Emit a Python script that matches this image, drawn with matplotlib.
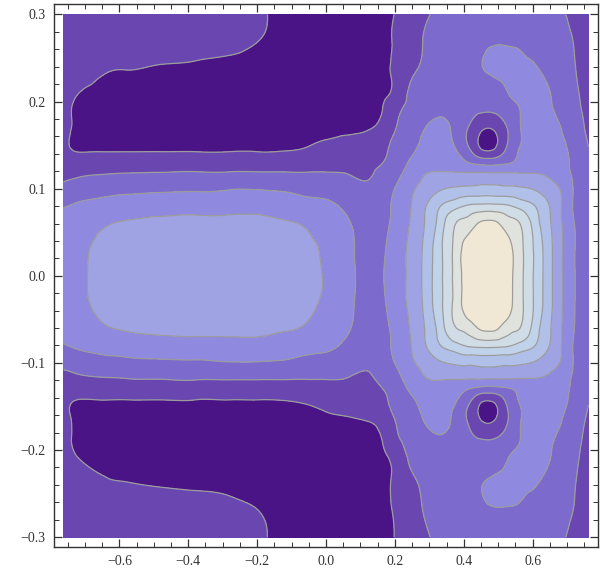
import numpy as np
import matplotlib
matplotlib.use("Agg")
import matplotlib.pyplot as plt
import matplotlib.tri as mtri
from matplotlib.ticker import MultipleLocator, FuncFormatter

x_nodes = [-0.762, -0.72, -0.66, -0.58, -0.48, -0.38, -0.28, -0.20, -0.12, -0.06,
           0.00, 0.06, 0.12, 0.17, 0.21, 0.25, 0.29, 0.33, 0.37, 0.41,
           0.44, 0.47, 0.50, 0.53, 0.57, 0.61, 0.65, 0.69, 0.73, 0.762]
y_nodes = [0.30, 0.27, 0.24, 0.21, 0.19, 0.17, 0.155, 0.14, 0.13, 0.115,
           0.10, 0.08, 0.06, 0.03, 0.0, -0.03, -0.06, -0.08, -0.10, -0.115,
           -0.13, -0.14, -0.155, -0.17, -0.19, -0.21, -0.24, -0.27, -0.30]

# level (band number 1 = darkest .. 10 = cream) at each node, one row per y
r00 = [2.0, 2.0, 2.0, 2.0, 2.0, 2.0, 1.85, 1.6, 1.3, 1.1, 1.05, 1.05, 1.15, 1.35, 1.59, 2.01, 2.39, 2.7, 2.9, 3.0, 3.1, 3.15, 3.2, 3.2, 3.15, 3.0, 2.85, 2.55, 2.25, 2.0]
r01 = [2.0, 2.0, 2.0, 2.0, 2.0, 2.0, 1.8, 1.52, 1.2, 1.0, 1.0, 1.0, 1.1, 1.35, 1.65, 2.1, 2.6, 2.9, 3.1, 3.2, 3.3, 3.4, 3.45, 3.45, 3.4, 3.2, 3.0, 2.7, 2.4, 2.1]
r02 = [2.0, 2.0, 1.7, 1.55, 1.45, 1.35, 1.25, 1.15, 1.0, 0.95, 0.95, 0.95, 1.05, 1.35, 1.75, 2.25, 2.75, 3.0, 3.15, 3.3, 3.4, 3.6, 3.7, 3.7, 3.65, 3.52, 3.2, 2.85, 2.45, 2.15]
r03 = [1.9, 1.52, 1.3, 1.2, 1.1, 1.0, 0.95, 0.95, 0.9, 0.9, 0.9, 0.95, 1.05, 1.4, 1.85, 2.8, 3.1, 3.25, 3.2, 3.05, 2.95, 2.9, 3.05, 3.52, 3.8, 3.75, 3.52, 3.0, 2.55, 2.2]
r04 = [1.85, 1.3, 1.15, 1.0, 1.0, 0.95, 0.95, 0.95, 0.95, 0.95, 0.95, 1.0, 1.15, 1.6, 2.35, 2.85, 3.15, 3.35, 3.15, 2.75, 2.6, 2.55, 2.65, 3.0, 3.6, 3.85, 3.6, 3.2, 2.65, 2.3]
r05 = [1.85, 1.25, 0.95, 0.95, 0.95, 0.95, 0.95, 0.95, 0.95, 0.95, 1.0, 1.1, 1.35, 1.95, 2.6, 3.1, 3.52, 3.75, 3.35, 2.55, 1.94, 1.54, 1.94, 2.6, 3.6, 3.95, 3.8, 3.4, 2.8, 2.35]
r06 = [1.85, 1.15, 1.0, 1.0, 1.0, 1.0, 1.0, 1.0, 1.05, 1.2, 1.55, 1.8, 2.0, 2.3, 2.75, 3.2, 3.7, 3.8, 3.45, 2.45, 1.55, 0.8, 1.55, 2.55, 3.55, 4.0, 3.9, 3.55, 2.95, 2.45]
r07 = [1.8, 1.6, 1.62, 1.62, 1.62, 1.62, 1.62, 1.62, 1.65, 1.75, 1.9, 2.0, 2.1, 2.4, 2.95, 3.45, 3.85, 3.95, 3.7, 3.0, 2.2, 1.88, 2.2, 2.9, 3.75, 4.1, 4.05, 3.7, 3.05, 2.55]
r08 = [2.1, 2.04, 2.04, 2.04, 2.04, 2.04, 2.04, 2.04, 2.04, 2.05, 2.1, 2.2, 2.3, 2.55, 3.15, 3.65, 4.05, 4.15, 3.95, 3.55, 3.25, 3.1, 3.2, 3.4, 3.85, 4.2, 4.1, 3.75, 3.1, 2.6]
r09 = [2.32, 2.44, 2.54, 2.62, 2.67, 2.72, 2.72, 2.72, 2.7, 2.68, 2.66, 2.55, 2.45, 2.85, 3.4, 3.95, 4.55, 4.7, 4.75, 4.78, 4.8, 4.8, 4.8, 4.78, 4.7, 4.6, 4.4, 3.9, 3.2, 2.7]
r10 = [2.79, 2.98, 3.14, 3.25, 3.33, 3.37, 3.45, 3.45, 3.37, 3.24, 3.12, 2.88, 2.65, 3.1, 3.67, 4.36, 4.88, 5.36, 5.6, 5.7, 5.75, 5.8, 5.75, 5.7, 5.6, 5.36, 4.88, 4.26, 3.17, 2.7]
r11 = [3.45, 3.6, 3.78, 3.97, 4.07, 4.13, 4.16, 4.16, 4.03, 3.85, 3.7, 3.3, 2.9, 3.2, 3.88, 4.55, 5.48, 6.45, 7.1, 7.6, 7.75, 7.8, 7.75, 7.6, 7.1, 6.45, 5.47, 4.32, 3.16, 2.7]
r12 = [3.75, 3.85, 4.3, 4.6, 4.75, 4.8, 4.8, 4.8, 4.6, 4.4, 4.0, 3.65, 3.0, 3.3, 3.9, 4.65, 5.6, 6.9, 8.35, 8.9, 9.5, 9.75, 9.55, 8.95, 8.35, 6.9, 5.6, 4.35, 3.3, 2.7]
r13 = [3.85, 4.2, 4.7, 4.95, 5.05, 5.1, 5.1, 5.05, 4.95, 4.75, 4.35, 3.8, 3.15, 3.45, 4.1, 4.81, 5.82, 7.22, 8.6, 9.98, 10.3, 10.4, 10.3, 9.82, 8.6, 7.22, 5.77, 4.4, 3.35, 2.72]
r14 = [3.9, 4.25, 4.75, 5.0, 5.1, 5.15, 5.15, 5.1, 5.0, 4.8, 4.43, 3.85, 3.2, 3.53, 4.13, 4.83, 5.86, 7.22, 8.6, 9.98, 10.3, 10.4, 10.3, 9.82, 8.6, 7.22, 5.77, 4.4, 3.35, 2.72]
# lower half of the picture reads the same as the upper half
levels_rows = [r00, r01, r02, r03, r04, r05, r06, r07, r08, r09, r10, r11, r12, r13, r14,
               r13, r12, r11, r10, r09, r08, r07, r06, r05, r04, r03, r02, r01, r00]

band_colors = ['#4a1486', '#6a47b0', '#7c6bcc', '#8f89e0', '#a0a3e3',
               '#b0c0e9', '#c0d3ea', '#d0dde6', '#e0e3dd', '#f1e7d5']

plt.rcParams['font.family'] = ['Liberation Serif', 'DejaVu Serif']

fig = plt.figure(figsize=(6.02, 5.70), dpi=100)
ax = fig.add_axes([54 / 602, 23.3 / 570, 544 / 602, 542.7 / 570])

# smooth the read-off node levels with matplotlib's own triangle refiner
X, Y = np.meshgrid(x_nodes, y_nodes)
z = np.array(levels_rows)
tri = mtri.Triangulation(X.ravel(), Y.ravel())
tri_f, z_f = mtri.UniformTriRefiner(tri).refine_field(z.ravel(), subdiv=3)

inner = np.arange(1.5, 10.0, 1.0)
bounds = np.concatenate([[-50], inner, [50]])
ax.tricontourf(tri_f, z_f, levels=bounds, colors=band_colors)
ax.tricontour(tri_f, z_f, levels=inner, colors='#9c9c9c', linewidths=0.9)

ax.set_xlim(-0.79, 0.79)
ax.set_ylim(-0.311, 0.312)


def fmt(v, pos):
    return ('%.1f' % v).replace('-', '\u2212')


ax.xaxis.set_major_locator(MultipleLocator(0.2))
ax.xaxis.set_minor_locator(MultipleLocator(0.05))
ax.yaxis.set_major_locator(MultipleLocator(0.1))
ax.yaxis.set_minor_locator(MultipleLocator(0.02))
ax.xaxis.set_major_formatter(FuncFormatter(fmt))
ax.yaxis.set_major_formatter(FuncFormatter(fmt))
ax.tick_params(which='both', direction='in', top=True, right=True,
               color='#333333', labelcolor='#333333', labelsize=10)
ax.tick_params(which='major', length=6, width=0.9, pad=6)
ax.tick_params(which='minor', length=3.5, width=0.7)
for s in ax.spines.values():
    s.set_color('#333333')
    s.set_linewidth(1.0)

fig.savefig('out.png', dpi=100)
